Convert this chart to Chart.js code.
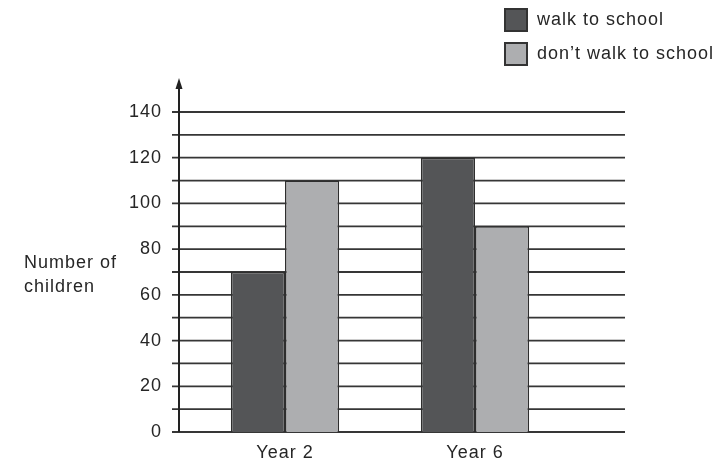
<!DOCTYPE html>
<html>
<head>
<meta charset="utf-8">
<script src="https://cdn.jsdelivr.net/npm/chart.js@4.4.0/dist/chart.umd.min.js"></script>
<style>
  html, body { margin: 0; padding: 0; background: #fff; }
  #wrap { width: 725px; height: 465px; }
</style>
</head>
<body>
<div id="wrap"><canvas id="walkChart"></canvas></div>
<script>
const categories = ['Year 2', 'Year 6'];
const walkToSchool = [70, 120];
const dontWalkToSchool = [110, 90];
const seriesLabels = ['walk to school', 'don\u2019t walk to school'];
const yMin = 0;
const yMax = 140;
const labelStep = 20;
const gridStep = 10;
const yTitle = ['Number of', 'children'];

const FONT = '"Liberation Sans", Arial, sans-serif';
const INK = '#262626';

// horizontal rules, the arrowed y axis, the key and the side title
const sheetPlugin = {
  id: 'sheet',
  beforeDraw(chart) {
    chart.ctx.letterSpacing = '1px';
  },
  beforeDatasetsDraw(chart) {
    const { ctx, chartArea, scales: { y } } = chart;
    const x0 = chartArea.left - 18;
    const x1 = chartArea.right + 55;
    const axisX = chartArea.left - 11;
    ctx.save();
    ctx.strokeStyle = '#363636';
    ctx.lineWidth = 1.8;
    for (let v = yMin; v <= yMax; v += gridStep) {
      const py = y.getPixelForValue(v);
      ctx.beginPath();
      ctx.moveTo(x0, py);
      ctx.lineTo(x1, py);
      ctx.stroke();
    }
    const bottom = y.getPixelForValue(yMin);
    const tip = y.getPixelForValue(yMax) - 34;
    ctx.strokeStyle = '#222';
    ctx.lineWidth = 2;
    ctx.beginPath();
    ctx.moveTo(axisX, bottom);
    ctx.lineTo(axisX, tip + 6);
    ctx.stroke();
    ctx.fillStyle = '#222';
    ctx.beginPath();
    ctx.moveTo(axisX, tip);
    ctx.lineTo(axisX - 3.5, tip + 11);
    ctx.lineTo(axisX + 3.5, tip + 11);
    ctx.closePath();
    ctx.fill();
    ctx.restore();
  },
  afterDraw(chart) {
    const { ctx } = chart;
    ctx.save();
    ctx.letterSpacing = '1px';
    ctx.font = '18px ' + FONT;
    ctx.textBaseline = 'middle';
    ctx.textAlign = 'left';
    chart.data.datasets.forEach((ds, i) => {
      const bx = 505, by = 9 + i * 34;
      ctx.fillStyle = ds.backgroundColor;
      ctx.fillRect(bx, by, 22, 22);
      ctx.strokeStyle = '#333';
      ctx.lineWidth = 2;
      ctx.strokeRect(bx, by, 22, 22);
      ctx.fillStyle = INK;
      ctx.fillText(ds.label, 537, by + 11);
    });
    ctx.fillText(yTitle[0], 24, 263);
    ctx.fillText(yTitle[1], 24, 287);
    ctx.restore();
  }
};

const ctx = document.getElementById('walkChart').getContext('2d');
new Chart(ctx, {
  type: 'bar',
  data: {
    labels: categories,
    datasets: [{
      label: seriesLabels[0],
      data: walkToSchool,
      backgroundColor: '#545557',
      borderColor: '#2e2e2e',
      borderWidth: 1.5
    }, {
      label: seriesLabels[1],
      data: dontWalkToSchool,
      backgroundColor: '#adaeb0',
      borderColor: '#2e2e2e',
      borderWidth: 1.5
    }]
  },
  options: {
    responsive: true,
    maintainAspectRatio: false,
    animation: false,
    layout: { padding: { top: 112, right: 155, bottom: 0, left: 0 } },
    datasets: { bar: { categoryPercentage: 0.57, barPercentage: 1 } },
    plugins: {
      legend: { display: false },
      tooltip: { enabled: false }
    },
    scales: {
      x: {
        grid: { display: false, drawTicks: false },
        border: { display: false },
        ticks: { color: INK, font: { family: FONT, size: 18 }, padding: 10 },
        afterFit(scale) { scale.height = 33; }
      },
      y: {
        min: yMin,
        max: yMax,
        grid: { display: false, drawTicks: false },
        border: { display: false },
        ticks: { stepSize: labelStep, color: INK, font: { family: FONT, size: 18 }, padding: 28 },
        afterFit(scale) {
          scale.width = 190;
          scale.paddingTop = 0;
          scale.paddingBottom = 0;
        }
      }
    }
  },
  plugins: [sheetPlugin]
});
</script>
</body>
</html>
